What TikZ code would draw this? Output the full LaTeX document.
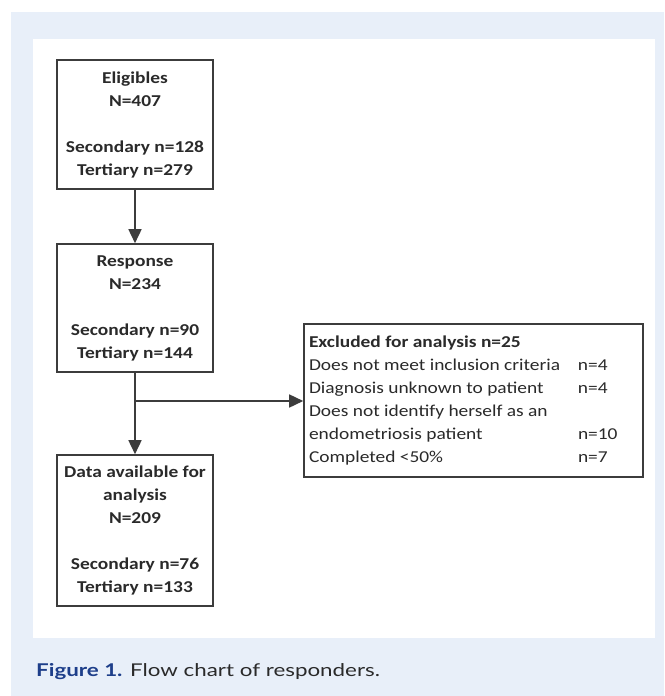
\documentclass[tikz,border=0pt]{standalone}
\usepackage{fontspec}
\setmainfont{Carlito}[FakeStretch=1.17]
\newfontfamily\capfont{Lato}[FakeStretch=1.27]
\usetikzlibrary{arrows.meta}
\definecolor{bgblue}{HTML}{E8EFF9}
\definecolor{capblue}{HTML}{1D3E8A}
\definecolor{linegray}{HTML}{3C3C3C}
\definecolor{txtgray}{HTML}{2A2A2A}
\begin{document}
\begin{tikzpicture}[x=1pt,y=-1pt,
  box/.style={draw=linegray, line width=1.6pt, fill=white, minimum width=156pt,
    inner sep=0pt, align=center, text=txtgray,
    font=\fontsize{16.6}{23}\selectfont\bfseries},
  exclbox/.style={draw=linegray, line width=1.6pt, fill=white, minimum width=339pt,
    minimum height=153pt, inner sep=0pt, text=txtgray,
    font=\fontsize{16.6}{23}\selectfont},
  conn/.style={draw=linegray, line width=1.6pt},
  arr/.style={conn, -{Triangle[width=13pt,length=14pt]}}]
\useasboundingbox (0,0) rectangle (664,696);
\fill[bgblue] (11,12) rectangle (664,696);
\fill[white] (33,39) rectangle (655,638);

\node[box, minimum height=129pt] (elig) at (135,124.5)
  {Eligibles\\N=407\\[23pt]Secondary n=128\\Tertiary n=279};
\node[box, minimum height=128pt] (resp) at (135,308)
  {Response\\N=234\\[23pt]Secondary n=90\\Tertiary n=144};
\node[box, minimum height=151pt] (data) at (135,530.5)
  {Data available for\\analysis\\N=209\\[23pt]Secondary n=76\\Tertiary n=133};
\node[exclbox] (excl) at (473.5,400.5)
  {\begin{tabular}{@{}p{269pt}@{}p{60pt}@{}}
   \multicolumn{2}{@{}l@{}}{\bfseries Excluded for analysis n=25}\\
   Does not meet inclusion criteria & n=4\\
   Diagnosis unknown to patient & n=4\\
   Does not identify herself as an & \\
   endometriosis patient & n=10\\
   Completed <50\% & n=7
   \end{tabular}};

\coordinate (br) at (resp.south |- 0,401);
\draw[arr] (elig) -- (resp);
\draw[arr] (resp) -- (data);
\draw[arr] (br) -- (br -| excl.west);

\node[anchor=base west, inner sep=0pt, font=\capfont\fontsize{17.6}{20}\selectfont, text=txtgray] (cap) at (36,676)
  {{\bfseries\color{capblue}Figure 1.} Flow chart of responders.};
\end{tikzpicture}
\end{document}
